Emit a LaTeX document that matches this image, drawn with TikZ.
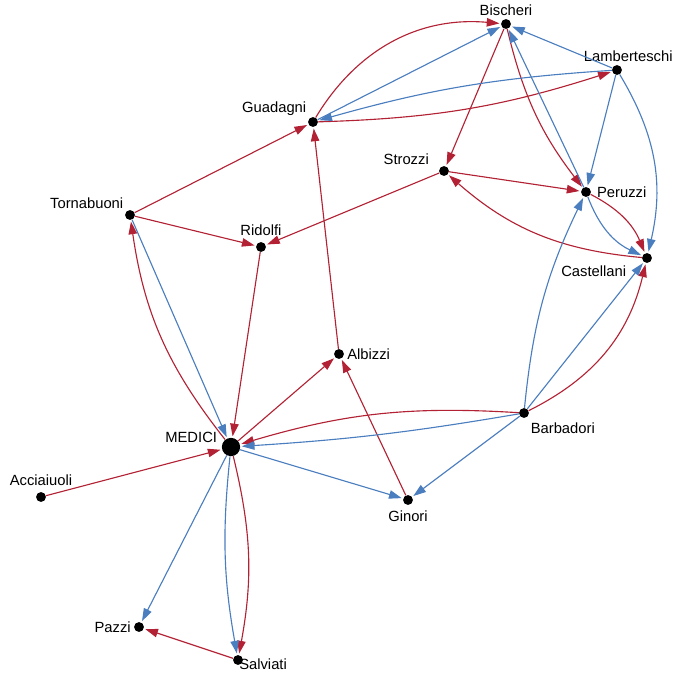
\documentclass[tikz,border=0pt]{standalone}
\usepackage{fontspec}
\setmainfont{Liberation Sans}
\usetikzlibrary{positioning, arrows.meta}
\definecolor{tieRed}{RGB}{178,34,52}
\definecolor{tieBlue}{RGB}{74,126,190}
\tikzset{
	family/.style={circle, fill=black, inner sep=0pt, minimum size=7pt},
	bigFamily/.style={circle, fill=black, inner sep=0pt, minimum size=13pt},
	redTie/.style={tieRed, line width=0.8pt, -{Triangle[length=9pt, width=6pt]}, shorten >=1pt},
	blueTie/.style={tieBlue, line width=0.8pt, -{Triangle[length=9pt, width=6pt]}, shorten >=1pt},
	every label/.style={font=\fontsize{10.5}{12}\selectfont, inner sep=2pt}
}
\begin{document}
\begin{tikzpicture}[x=0.025cm, y=-0.025cm]
		\useasboundingbox (0,0) rectangle (685,672);
		
		%Families
		\node (bischeri) at (506,24) [family, label=above:Bischeri]{};
		\node (lamberteschi) at (617,70) [family, label={[xshift=8pt]above:Lamberteschi}]{};
		\node (guadagni) at (313,122) [family, label=above left:Guadagni]{};
		\node (strozzi) at (444,171) [family, label={[xshift=-6pt]above left:Strozzi}]{};
		\node (peruzzi) at (586,192) [family, label={[xshift=2pt]right:Peruzzi}]{};
		\node (castellani) at (647,258) [family, label={[xshift=-10pt, yshift=-1pt]below left:Castellani}]{};
		\node (tornabuoni) at (130,215) [family, label=above left:Tornabuoni]{};
		\node (ridolfi) at (261,247) [family, label={[yshift=2pt]above:Ridolfi}]{};
		\node (albizzi) at (339,354) [family, label=right:Albizzi]{};
		\node (barbadori) at (524,413) [family, label={[yshift=-2pt]below right:Barbadori}]{};
		\node (medici) at (231,447) [bigFamily, label={[xshift=-3pt, yshift=-4pt]above left:MEDICI}]{};
		\node (acciaiuoli) at (41,497) [family, label={[yshift=2pt]above:Acciaiuoli}]{};
		\node (ginori) at (408,500) [family, label={[yshift=-2pt]below:Ginori}]{};
		\node (pazzi) at (139,627) [family, label=left:Pazzi]{};
		\node (salviati) at (238,660) [family, label={[xshift=-5pt, yshift=-3pt]right:Salviati}]{};
		
		%Red ties
		\draw[redTie] (guadagni) to[bend left=32] (bischeri);
		\draw[redTie] (bischeri) -- (strozzi);
		\draw[redTie] (bischeri) to[bend right=12] (peruzzi);
		\draw[redTie] (guadagni) to[bend right=8] (lamberteschi);
		\draw[redTie] (tornabuoni) -- (guadagni);
		\draw[redTie] (tornabuoni) -- (ridolfi);
		\draw[redTie] (strozzi) -- (peruzzi);
		\draw[redTie] (strozzi) -- (ridolfi);
		\draw[redTie] (castellani) to[bend left=18] (strozzi);
		\draw[redTie] (peruzzi) to[bend left=20] (castellani);
		\draw[redTie] (ridolfi) -- (medici);
		\draw[redTie] (medici) to[bend left=15] (tornabuoni);
		\draw[redTie] (medici) -- (albizzi);
		\draw[redTie] (albizzi) -- (guadagni);
		\draw[redTie] (ginori) -- (albizzi);
		\draw[redTie] (barbadori) to[bend right=10] (medici);
		\draw[redTie] (barbadori) to[bend right=25] (castellani);
		\draw[redTie] (acciaiuoli) -- (medici);
		\draw[redTie] (medici) to[bend left=12] (salviati);
		\draw[redTie] (salviati) -- (pazzi);
		
		%Blue ties
		\draw[blueTie] (guadagni) -- (bischeri);
		\draw[blueTie] (lamberteschi) -- (bischeri);
		\draw[blueTie] (lamberteschi) to[bend right=6] (guadagni);
		\draw[blueTie] (lamberteschi) -- (peruzzi);
		\draw[blueTie] (lamberteschi) to[bend left=22] (castellani);
		\draw[blueTie] (peruzzi) -- (bischeri);
		\draw[blueTie] (peruzzi) to[bend right=22] (castellani);
		\draw[blueTie] (tornabuoni) -- (medici);
		\draw[blueTie] (barbadori) to[bend left=10] (peruzzi);
		\draw[blueTie] (barbadori) -- (castellani);
		\draw[blueTie] (barbadori) to[bend left=3] (medici);
		\draw[blueTie] (barbadori) -- (ginori);
		\draw[blueTie] (medici) -- (ginori);
		\draw[blueTie] (medici) -- (pazzi);
		\draw[blueTie] (medici) to[bend right=8] (salviati);
		
\end{tikzpicture}
\end{document}
